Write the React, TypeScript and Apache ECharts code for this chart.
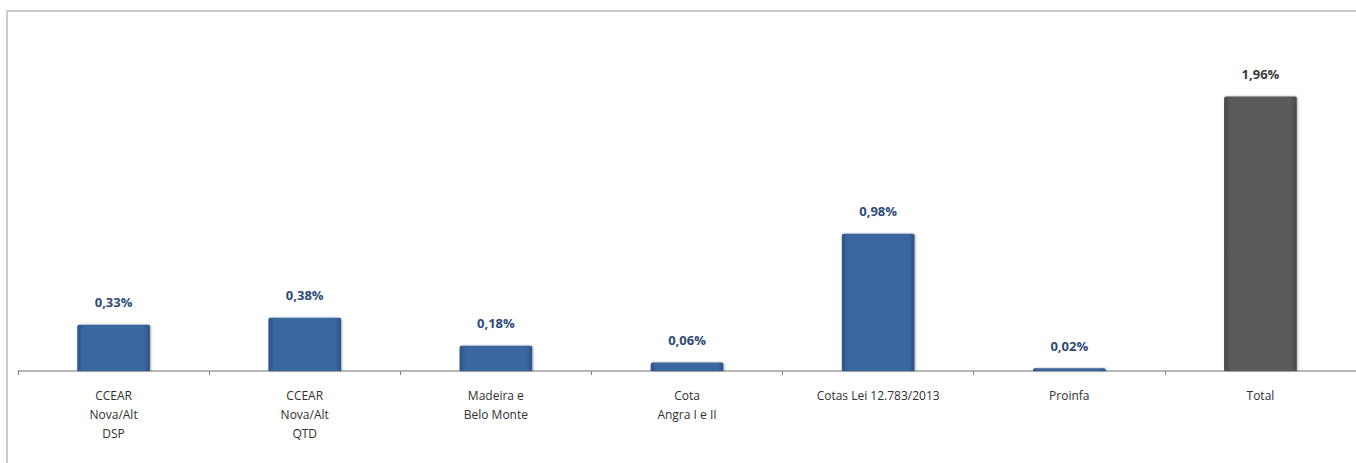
import React, { useEffect, useRef } from "react";
import * as echarts from "echarts";

const categories = [
  "CCEAR\nNova/Alt\nDSP",
  "CCEAR\nNova/Alt\nQTD",
  "Madeira e\nBelo Monte",
  "Cota\nAngra I e II",
  "Cotas Lei 12.783/2013",
  "Proinfa",
  "Total",
];
const values = [0.33, 0.38, 0.18, 0.06, 0.98, 0.02, 1.96];
const totalIndex = 6;

const blueGrad = () =>
  new echarts.graphic.LinearGradient(0, 0, 1, 0, [
    { offset: 0, color: "#2c5384" },
    { offset: 0.08, color: "#3a66a0" },
    { offset: 0.92, color: "#3a66a0" },
    { offset: 1, color: "#2c5384" },
  ]);
const grayGrad = () =>
  new echarts.graphic.LinearGradient(0, 0, 1, 0, [
    { offset: 0, color: "#464646" },
    { offset: 0.08, color: "#5a5a5a" },
    { offset: 0.92, color: "#5a5a5a" },
    { offset: 1, color: "#464646" },
  ]);

export default function App() {
  const ref = useRef<HTMLDivElement>(null);
  useEffect(() => {
    if (!ref.current) return;
    const chart = echarts.init(ref.current, null, { renderer: "svg" });
    chart.setOption({
      animation: false,
      backgroundColor: "#ffffff",
      graphic: [
        {
          type: "rect",
          shape: { x: 7, y: 11, width: 1400, height: 500 },
          style: { fill: "none", stroke: "#cccccc", lineWidth: 2 },
          silent: true,
        },
      ],
      grid: { left: 18, right: -2, top: 91, bottom: 92, containLabel: false },
      xAxis: {
        type: "category",
        data: categories,
        axisLine: { lineStyle: { color: "#a0a0a0", width: 1.5 } },
        axisTick: { show: true, length: 4, lineStyle: { color: "#808080" } },
        axisLabel: {
          interval: 0,
          margin: 15,
          fontFamily: "Open Sans",
          fontSize: 12,
          lineHeight: 19,
          color: "#303030",
        },
      },
      yAxis: {
        type: "value",
        min: 0,
        max: 2,
        show: false,
        splitLine: { show: false },
      },
      series: [
        {
          type: "bar",
          barWidth: "38%",
          data: values.map((v, i) => ({
            value: v,
            itemStyle: {
              color: i === totalIndex ? grayGrad() : blueGrad(),
              borderRadius: [2, 2, 0, 0],
              shadowBlur: 2,
              shadowColor: "rgba(0,0,0,0.35)",
              shadowOffsetX: 1,
              shadowOffsetY: 0,
            },
            label: {
              color: i === totalIndex ? "#3a3a3a" : "#2e4a76",
            },
          })),
          label: {
            show: true,
            position: "top",
            distance: 16,
            fontFamily: "Open Sans",
            fontWeight: "bold",
            fontSize: 13,
            formatter: (p: any) => p.value.toFixed(2).replace(".", ",") + "%",
          },
        },
      ],
    });
    return () => chart.dispose();
  }, []);
  return (
    <div
      ref={ref}
      style={{ position: "fixed", left: 0, top: 0, width: 1356, height: 463 }}
    />
  );
}
